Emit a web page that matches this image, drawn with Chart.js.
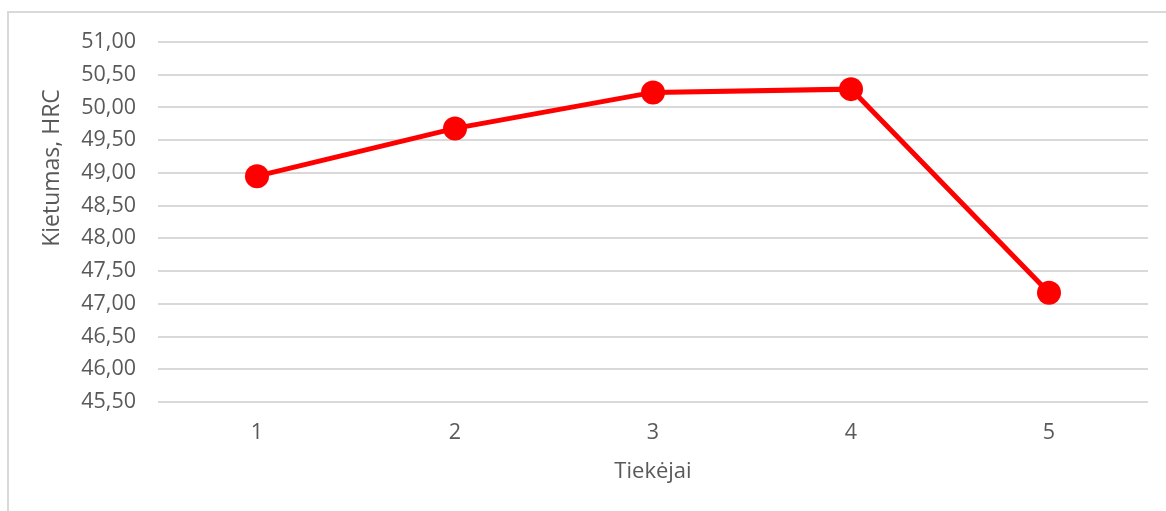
<!DOCTYPE html>
<html lang="lt">
<head>
    <meta charset="UTF-8">
    <title>Kietumas pagal tiekėjus</title>
    <script src="https://cdn.jsdelivr.net/npm/chart.js"></script>
    <style>
        html, body {
            margin: 0;
            padding: 0;
            background: #fff;
        }

        /* thin frame round the chart area, as in the spreadsheet export */
        #frame {
            position: absolute;
            left: 7px;
            top: 11px;
            width: 1200px;
            height: 600px;
            border-left: 2px solid #d9d9d9;
            border-top: 2px solid #d9d9d9;
        }

        #wrap {
            position: absolute;
            left: 0;
            top: 0;
            width: 1166px;
            height: 511px;
        }
    </style>
</head>
<body>
    <div id="frame"></div>
    <div id="wrap">
        <canvas id="hardnessChart"></canvas>
    </div>

    <script>
        // Tiekėjai (suppliers) and average hardness, HRC
        const suppliers = ['1', '2', '3', '4', '5'];
        const hardness = [48.95, 49.68, 50.23, 50.28, 47.17];

        // y axis range and step
        const yMin = 45.5;
        const yMax = 51.0;
        const yStep = 0.5;

        const yTitle = 'Kietumas, HRC';
        const xTitle = 'Tiekėjai';

        const textColor = '#595959';
        const fontFamily = "'Open Sans', 'Noto Sans', sans-serif";

        // Lithuanian style: comma as decimal separator
        function formatTick(v) {
            return v.toFixed(2).replace('.', ',');
        }

        // y title sits a bit above the middle of the axis, so draw it by hand
        const yTitlePlugin = {
            id: 'yTitle',
            afterDraw(chart) {
                const c = chart.ctx;
                const area = chart.chartArea;
                c.save();
                c.translate(52, area.top + (area.bottom - area.top) * 0.35);
                c.rotate(-Math.PI / 2);
                c.fillStyle = textColor;
                c.font = '23px ' + fontFamily;
                c.textAlign = 'center';
                c.textBaseline = 'middle';
                c.fillText(yTitle, 0, 0);
                c.restore();
            }
        };

        let ctx = document.getElementById('hardnessChart').getContext('2d');
        let hardnessChart = new Chart(ctx, {
            type: 'line',
            data: {
                labels: suppliers,
                datasets: [{
                    label: 'Kietumas',
                    data: hardness,
                    borderColor: '#ff0000',
                    backgroundColor: '#ff0000',
                    borderWidth: 5,
                    pointRadius: 12,
                    pointBorderWidth: 0,
                    pointBackgroundColor: '#ff0000',
                    fill: false,
                    tension: 0
                }]
            },
            options: {
                responsive: true,
                maintainAspectRatio: false,
                animation: false,
                layout: {
                    padding: { left: 0, top: 42, right: 18, bottom: 0 }
                },
                scales: {
                    x: {
                        offset: true,
                        grid: { display: false, drawTicks: false },
                        border: { display: false },
                        ticks: {
                            color: textColor,
                            padding: 18,
                            font: { family: fontFamily, size: 21.5 }
                        },
                        title: {
                            display: true,
                            text: xTitle,
                            color: textColor,
                            padding: { top: 6, bottom: 26 },
                            font: { family: fontFamily, size: 22 }
                        },
                        afterFit: function(scale) {
                            scale.height = 109;
                        }
                    },
                    y: {
                        min: yMin,
                        max: yMax,
                        grid: {
                            color: '#d9d9d9',
                            lineWidth: 2,
                            drawTicks: false
                        },
                        border: { display: false },
                        ticks: {
                            stepSize: yStep,
                            color: textColor,
                            padding: 22,
                            font: { family: fontFamily, size: 21.5 },
                            callback: function(value) {
                                return formatTick(value);
                            }
                        },
                        afterFit: function(scale) {
                            scale.width = 158;
                        }
                    }
                },
                plugins: {
                    legend: { display: false },
                    tooltip: { enabled: false }
                }
            },
            plugins: [yTitlePlugin]
        });
    </script>
</body>
</html>
